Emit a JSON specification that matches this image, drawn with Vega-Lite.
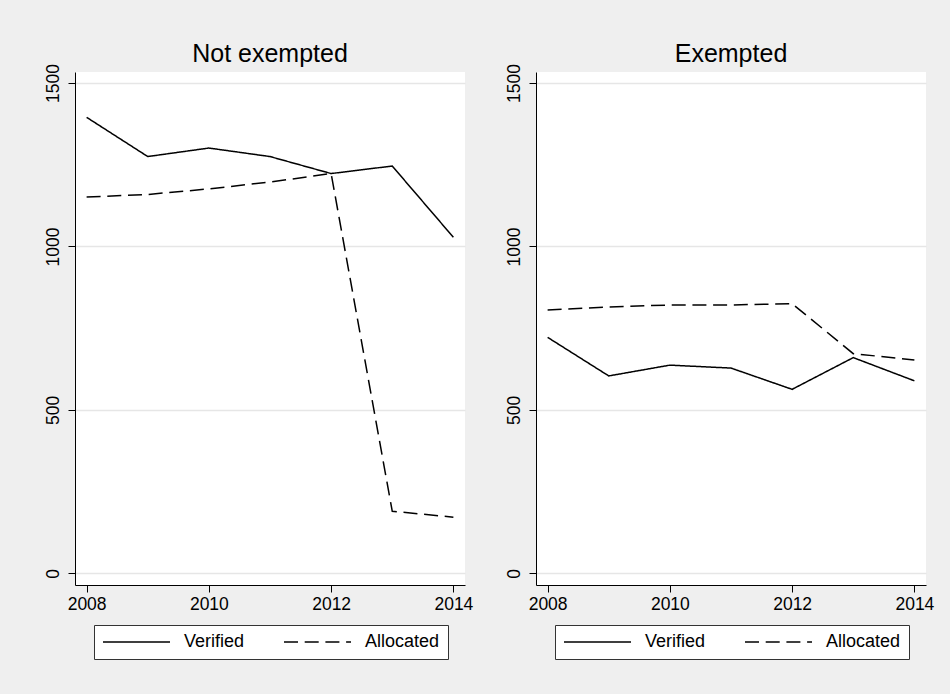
{
  "$schema": "https://vega.github.io/schema/vega-lite/v6.json",
  "background": "#efefef",
  "padding": {"left": 43, "top": 41, "right": 16, "bottom": 35},
  "data": {
    "values": [
      {"panel": "Not exempted", "series": "Verified", "year": 2008, "value": 1395},
      {"panel": "Not exempted", "series": "Verified", "year": 2009, "value": 1275},
      {"panel": "Not exempted", "series": "Verified", "year": 2010, "value": 1301},
      {"panel": "Not exempted", "series": "Verified", "year": 2011, "value": 1275},
      {"panel": "Not exempted", "series": "Verified", "year": 2012, "value": 1223},
      {"panel": "Not exempted", "series": "Verified", "year": 2013, "value": 1246},
      {"panel": "Not exempted", "series": "Verified", "year": 2014, "value": 1028},
      {"panel": "Not exempted", "series": "Allocated", "year": 2008, "value": 1151},
      {"panel": "Not exempted", "series": "Allocated", "year": 2009, "value": 1159},
      {"panel": "Not exempted", "series": "Allocated", "year": 2010, "value": 1176},
      {"panel": "Not exempted", "series": "Allocated", "year": 2011, "value": 1197},
      {"panel": "Not exempted", "series": "Allocated", "year": 2012, "value": 1223},
      {"panel": "Not exempted", "series": "Allocated", "year": 2013, "value": 190},
      {"panel": "Not exempted", "series": "Allocated", "year": 2014, "value": 172},
      {"panel": "Exempted", "series": "Verified", "year": 2008, "value": 722},
      {"panel": "Exempted", "series": "Verified", "year": 2009, "value": 604},
      {"panel": "Exempted", "series": "Verified", "year": 2010, "value": 637},
      {"panel": "Exempted", "series": "Verified", "year": 2011, "value": 628},
      {"panel": "Exempted", "series": "Verified", "year": 2012, "value": 563},
      {"panel": "Exempted", "series": "Verified", "year": 2013, "value": 660},
      {"panel": "Exempted", "series": "Verified", "year": 2014, "value": 589},
      {"panel": "Exempted", "series": "Allocated", "year": 2008, "value": 806},
      {"panel": "Exempted", "series": "Allocated", "year": 2009, "value": 815},
      {"panel": "Exempted", "series": "Allocated", "year": 2010, "value": 821},
      {"panel": "Exempted", "series": "Allocated", "year": 2011, "value": 821},
      {"panel": "Exempted", "series": "Allocated", "year": 2012, "value": 825},
      {"panel": "Exempted", "series": "Allocated", "year": 2013, "value": 672},
      {"panel": "Exempted", "series": "Allocated", "year": 2014, "value": 653}
    ]
  },
  "bounds": "flush",
  "spacing": 71,
  "resolve": {"legend": {"strokeDash": "independent"}, "scale": {"strokeDash": "independent"}},
  "hconcat": [
    {
      "title": "Not exempted",
      "width": 390,
      "height": 513,
      "transform": [{"filter": "datum.panel === 'Not exempted'"}],
      "mark": {"type": "line", "color": "black", "strokeWidth": 1.5},
      "encoding": {
        "x": {"field": "year", "type": "quantitative",
              "scale": {"domain": [2007.81, 2014.19], "nice": false, "zero": false},
              "axis": {"values": [2008, 2010, 2012, 2014], "format": "d", "title": null, "grid": false}},
        "y": {"field": "value", "type": "quantitative",
              "scale": {"domain": [-35.5, 1533.6], "nice": false, "zero": false},
              "axis": {"values": [0, 500, 1000, 1500], "format": "d", "title": null}},
        "strokeDash": {"field": "series", "type": "nominal",
                       "scale": {"domain": ["Verified", "Allocated"], "range": [[1, 0], [14, 6.7]]},
                       "legend": {"title": null, "orient": "none", "legendX": 19, "legendY": 553, "direction": "horizontal"}}
      }
    },
    {
      "title": "Exempted",
      "width": 390,
      "height": 513,
      "transform": [{"filter": "datum.panel === 'Exempted'"}],
      "mark": {"type": "line", "color": "black", "strokeWidth": 1.5},
      "encoding": {
        "x": {"field": "year", "type": "quantitative",
              "scale": {"domain": [2007.81, 2014.19], "nice": false, "zero": false},
              "axis": {"values": [2008, 2010, 2012, 2014], "format": "d", "title": null, "grid": false}},
        "y": {"field": "value", "type": "quantitative",
              "scale": {"domain": [-35.5, 1533.6], "nice": false, "zero": false},
              "axis": {"values": [0, 500, 1000, 1500], "format": "d", "title": null}},
        "strokeDash": {"field": "series", "type": "nominal",
                       "scale": {"domain": ["Verified", "Allocated"], "range": [[1, 0], [14, 6.7]]},
                       "legend": {"title": null, "orient": "none", "legendX": 19, "legendY": 553, "direction": "horizontal"}}
      }
    }
  ],
  "config": {
    "font": "Liberation Sans",
    "view": {"fill": "white", "stroke": null},
    "title": {"fontSize": 25, "fontWeight": "normal", "color": "black", "anchor": "middle", "offset": -3, "font": "Liberation Sans"},
    "axis": {
      "domainColor": "black", "domainWidth": 1,
      "tickColor": "black", "tickSize": 7, "tickWidth": 1,
      "labelFont": "Liberation Sans", "labelFontSize": 17.5, "labelColor": "black",
      "gridColor": "#e6e6e6", "gridWidth": 1.5
    },
    "axisX": {"labelPadding": 3, "labelFlush": false, "labelOverlap": false},
    "axisY": {"labelAngle": 270, "labelAlign": "center", "labelBaseline": "bottom", "labelPadding": 6, "labelOverlap": false},
    "legend": {
      "strokeColor": "#333333", "fillColor": "white", "padding": 8, "cornerRadius": 0,
      "symbolType": "stroke", "symbolSize": 4489, "symbolStrokeWidth": 1.5, "symbolStrokeColor": "black",
      "clipHeight": 18,
      "labelFont": "Liberation Sans", "labelFontSize": 18, "labelColor": "black", "labelOffset": 13,
      "columnPadding": 38
    }
  }
}
